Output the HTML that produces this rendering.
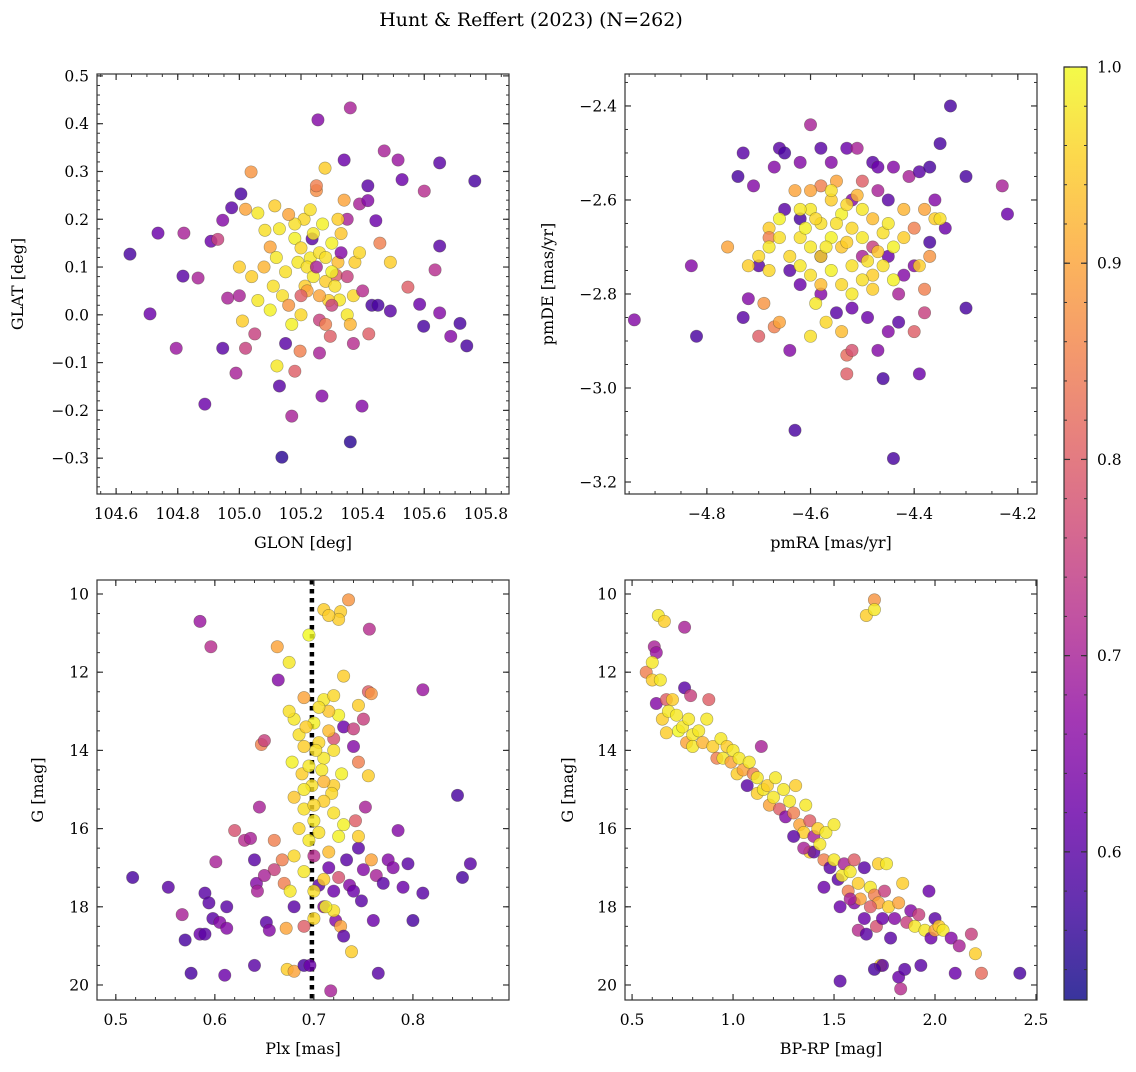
<!DOCTYPE html>
<html><head><meta charset="utf-8"><style>
body{margin:0;background:#fff;}
svg text{font-family:"DejaVu Serif","Liberation Serif",serif;fill:#000;}
</style></head><body>
<svg id="fig" width="1136" height="1067" xmlns="http://www.w3.org/2000/svg">
<text x="531" y="26" text-anchor="middle" font-size="19">Hunt &amp; Reffert (2023) (N=262)</text>
<defs><linearGradient id="plasma" x1="0" y1="1" x2="0" y2="0">
<stop offset="0" stop-color="#0d0887"/><stop offset="0.1" stop-color="#41049d"/><stop offset="0.2" stop-color="#6a00a8"/><stop offset="0.3" stop-color="#8f0da4"/><stop offset="0.4" stop-color="#b12a90"/><stop offset="0.5" stop-color="#cc4778"/><stop offset="0.6" stop-color="#e16462"/><stop offset="0.7" stop-color="#f2844b"/><stop offset="0.8" stop-color="#fca636"/><stop offset="0.9" stop-color="#fcce25"/><stop offset="1" stop-color="#f0f921"/>
</linearGradient></defs>
</svg>
<script>
// ---- Panel 1: GLON / GLAT ----
const glon=[104.645,104.736,104.71,104.795,104.817,104.82,104.866,104.888,104.908,104.93,104.946,104.946,104.962,104.975,104.989,105.005,105.02,105.038,105.0,105.01,105.06,105.083,105.1,105.115,105.122,105.13,105.138,105.17,105.18,105.197,105.213,105.23,105.236,105.255,105.26,105.268,105.278,105.295,105.314,105.34,105.35,105.36,105.36,105.325,105.375,105.39,105.398,105.417,105.43,105.443,105.456,105.47,105.49,105.515,105.528,105.547,105.585,105.598,105.6,105.635,105.65,105.65,105.65,105.686,105.716,105.738,105.764,105.49,105.417,
105.12,105.15,105.18,105.2,105.22,105.24,105.26,105.28,105.3,105.32,105.14,105.16,105.19,105.21,105.23,105.25,105.27,105.29,105.31,105.33,105.35,105.37,105.11,105.08,105.06,105.04,105.17,105.2,105.22,105.24,105.26,105.28,105.3,105.32,105.34,105.18,105.13,105.1,105.39,105.36,
105.25,105.33,105.3,105.2,105.35,105.4,105.37,105.42,105.15,105.26,105.28,105.45,105.05,105.02,105.0,105.16,105.25];
const glat=[0.127,0.171,0.002,-0.07,0.081,0.171,0.077,-0.187,0.154,0.158,0.198,-0.07,0.035,0.224,-0.122,0.253,0.221,0.299,0.10,-0.013,0.213,0.177,0.142,0.228,-0.107,-0.149,-0.298,-0.212,-0.118,-0.076,0.06,0.119,0.159,0.408,-0.011,-0.17,0.307,-0.045,0.083,0.324,0.2,0.433,-0.266,0.031,0.11,0.232,-0.191,0.27,0.02,0.197,0.15,0.343,0.008,0.324,0.283,0.058,0.022,-0.024,0.259,0.094,0.004,0.318,0.144,-0.045,-0.018,-0.065,0.28,0.11,0.239,
0.12,0.09,0.16,0.14,0.05,0.17,0.13,0.07,0.15,0.11,0.04,0.02,0.11,0.2,0.22,0.26,0.19,0.03,0.06,0.17,0.0,0.04,0.06,0.1,0.03,0.08,-0.02,0.0,0.1,0.08,0.04,0.12,0.09,0.2,0.24,0.19,0.18,0.01,0.13,-0.02,
0.1,0.13,0.02,0.04,0.08,0.05,-0.06,-0.04,-0.06,-0.08,-0.02,0.02,-0.04,-0.07,0.04,0.21,0.27];
const glatC=[0.58,0.62,0.62,0.68,0.6,0.7,0.7,0.62,0.62,0.75,0.65,0.6,0.7,0.6,0.7,0.58,0.9,0.88,0.95,0.95,0.98,0.97,0.9,0.95,0.98,0.6,0.55,0.7,0.8,0.85,0.95,0.98,0.6,0.65,0.75,0.65,0.95,0.8,0.8,0.62,0.7,0.7,0.55,0.98,0.95,0.7,0.65,0.6,0.58,0.62,0.85,0.7,0.6,0.68,0.62,0.8,0.62,0.58,0.72,0.72,0.65,0.6,0.6,0.65,0.58,0.58,0.58,0.95,0.65,
0.98,0.97,0.99,0.96,0.9,0.98,0.97,0.95,0.99,0.93,0.97,0.88,0.98,0.96,0.97,0.87,0.99,0.95,0.97,0.94,0.98,0.96,0.97,0.92,0.98,0.95,0.99,0.96,0.97,0.98,0.9,0.97,0.99,0.95,0.9,0.97,0.98,0.99,0.96,0.92,
0.7,0.65,0.75,0.8,0.75,0.72,0.72,0.8,0.6,0.7,0.85,0.58,0.75,0.75,0.7,0.9,0.85];

// ---- Panel 2: pmRA / pmDE ----
const pmra=[-4.83,-4.82,-4.94,-4.74,-4.73,-4.71,-4.73,-4.72,-4.7,-4.69,-4.67,-4.66,-4.68,-4.68,-4.66,-4.65,-4.67,-4.64,-4.63,-4.62,-4.6,-4.58,-4.56,-4.53,-4.51,-4.48,-4.47,-4.44,-4.41,-4.39,-4.37,-4.35,-4.33,-4.36,-4.34,-4.37,-4.3,-4.23,-4.22,-4.3,-4.39,-4.44,-4.46,-4.47,-4.49,-4.52,-4.55,-4.53,-4.53,-4.52,-4.58,-4.62,-4.64,-4.58,-4.43,-4.42,-4.4,-4.38,-4.38,-4.37,-4.36,-4.38,-4.4,-4.42,-4.45,-4.47,-4.5,-4.52,-4.55,-4.58,-4.6,-4.63,-4.4,-4.43,-4.45,-4.48,-4.5,-4.45,-4.65,-4.62,-4.7,-4.72,-4.76,
-4.6,-4.58,-4.56,-4.54,-4.52,-4.5,-4.48,-4.46,-4.44,-4.42,-4.62,-4.6,-4.58,-4.56,-4.54,-4.52,-4.5,-4.48,-4.46,-4.44,-4.64,-4.62,-4.6,-4.58,-4.56,-4.54,-4.52,-4.5,-4.48,-4.66,-4.68,-4.7,-4.66,-4.55,-4.53,-4.57,-4.59,-4.61,-4.47,-4.49,-4.45,-4.51,-4.53,-4.56,-4.59,-4.57,-4.6,-4.54,-4.62,-4.68,-4.39,-4.35];
const pmde=[-2.74,-2.89,-2.855,-2.55,-2.5,-2.57,-2.85,-2.81,-2.89,-2.82,-2.87,-2.86,-2.66,-2.68,-2.49,-2.5,-2.53,-2.92,-3.09,-2.52,-2.44,-2.49,-2.52,-2.49,-2.49,-2.52,-2.53,-2.53,-2.55,-2.54,-2.53,-2.48,-2.4,-2.6,-2.66,-2.69,-2.55,-2.57,-2.63,-2.83,-2.97,-3.15,-2.98,-2.92,-2.85,-2.83,-2.84,-2.93,-2.97,-2.92,-2.8,-2.78,-2.75,-2.72,-2.8,-2.76,-2.74,-2.79,-2.84,-2.72,-2.64,-2.62,-2.66,-2.62,-2.6,-2.58,-2.56,-2.6,-2.56,-2.57,-2.58,-2.58,-2.88,-2.86,-2.88,-2.7,-2.72,-2.72,-2.62,-2.64,-2.74,-2.74,-2.7,
-2.62,-2.65,-2.6,-2.63,-2.66,-2.62,-2.64,-2.67,-2.7,-2.68,-2.68,-2.7,-2.72,-2.68,-2.7,-2.74,-2.68,-2.76,-2.74,-2.77,-2.72,-2.74,-2.76,-2.78,-2.75,-2.78,-2.8,-2.77,-2.79,-2.68,-2.7,-2.72,-2.64,-2.65,-2.69,-2.7,-2.64,-2.66,-2.71,-2.73,-2.65,-2.59,-2.61,-2.58,-2.82,-2.86,-2.89,-2.88,-2.62,-2.75,-2.74,-2.64];
const pmC=[0.65,0.58,0.65,0.58,0.6,0.65,0.6,0.65,0.8,0.88,0.85,0.9,0.95,0.85,0.6,0.58,0.65,0.65,0.58,0.65,0.7,0.6,0.65,0.62,0.7,0.6,0.62,0.65,0.7,0.6,0.58,0.58,0.58,0.65,0.62,0.58,0.58,0.7,0.62,0.58,0.62,0.58,0.58,0.65,0.62,0.62,0.6,0.82,0.8,0.78,0.65,0.62,0.6,0.6,0.7,0.65,0.65,0.85,0.75,0.88,0.95,0.9,0.85,0.92,0.6,0.7,0.8,0.65,0.9,0.85,0.9,0.9,0.8,0.6,0.65,0.75,0.7,0.62,0.6,0.58,0.6,0.95,0.9,
0.98,0.97,0.95,0.99,0.96,0.98,0.93,0.97,0.99,0.95,0.97,0.98,0.96,0.99,0.94,0.97,0.98,0.95,0.97,0.99,0.96,0.98,0.97,0.93,0.99,0.96,0.98,0.97,0.95,0.97,0.98,0.96,0.99,0.97,0.95,0.98,0.96,0.99,0.94,0.97,0.98,0.92,0.96,0.97,0.98,0.96,0.97,0.93,0.98,0.96,0.95,0.97];

// ---- Panel 3: Plx / G ----
const plx=[0.517,0.553,0.567,0.57,0.576,0.585,0.585,0.59,0.59,0.594,0.596,0.598,0.601,0.605,0.61,0.612,0.612,0.62,0.63,0.636,0.64,0.64,0.642,0.643,0.645,0.647,0.65,0.652,0.655,0.66,0.663,0.66,0.664,0.668,0.67,0.672,0.673,0.68,0.69,0.696,0.7,0.705,0.71,0.715,0.717,0.72,0.722,0.725,0.727,0.73,0.733,0.736,0.738,0.74,0.742,0.745,0.748,0.75,0.752,0.756,0.758,0.76,0.763,0.765,0.77,0.775,0.78,0.785,0.79,0.795,0.8,0.81,0.81,0.845,0.85,0.858,0.65,0.68,0.69,0.74,0.745,0.75,0.755,0.755,0.73,0.735,0.745,0.758,0.727,0.725,0.71,0.715,0.695,0.675,0.69,0.73,0.74,0.72,0.745,0.72,
0.68,0.685,0.69,0.7,0.705,0.71,0.715,0.72,0.678,0.688,0.698,0.708,0.718,0.728,0.68,0.69,0.7,0.71,0.72,0.73,0.685,0.695,0.705,0.715,0.725,0.68,0.69,0.7,0.71,0.72,0.676,0.7,0.712,0.702,0.692,0.71,0.72,0.725,0.715,0.705,0.69,0.71,0.7,0.675,0.695];
const gmagP=[17.25,17.5,18.2,18.85,19.7,10.7,18.7,17.65,18.7,17.9,11.35,18.3,16.85,18.4,19.75,18.0,18.55,16.05,16.3,16.25,19.5,16.8,17.4,17.6,15.45,13.85,13.75,18.4,18.6,16.3,11.35,17.05,12.2,16.8,17.4,18.55,19.6,19.65,19.5,19.5,16.7,17.45,18.0,17.0,20.15,17.6,18.35,17.25,18.5,18.75,16.8,17.45,19.15,17.6,15.8,16.5,17.85,17.05,15.45,10.9,16.8,18.35,17.2,19.7,17.4,16.8,17.0,16.05,17.5,16.9,18.35,12.45,17.65,15.15,17.25,16.9,17.2,18.0,18.5,13.9,14.3,13.2,14.65,12.5,12.1,10.15,12.85,12.55,10.45,10.65,10.4,10.55,11.05,11.75,12.65,13.4,13.45,13.7,16.2,14.9,
13.2,13.6,13.9,13.3,13.8,14.2,13.5,14.0,14.3,14.6,14.9,14.5,15.1,14.6,15.2,15.5,15.8,15.3,15.6,15.9,16.0,16.3,16.1,16.6,16.2,16.7,17.1,17.6,17.3,18.1,17.6,18.3,18.0,14.0,13.4,12.7,12.6,13.1,13.0,12.9,15.0,14.8,15.4,13.0,14.4];
const plxC=[0.58,0.6,0.7,0.58,0.58,0.68,0.62,0.6,0.6,0.6,0.72,0.6,0.7,0.65,0.62,0.6,0.65,0.78,0.72,0.7,0.6,0.6,0.65,0.7,0.7,0.85,0.75,0.6,0.65,0.85,0.9,0.75,0.65,0.85,0.85,0.9,0.95,0.9,0.58,0.62,0.72,0.6,0.65,0.62,0.7,0.62,0.65,0.78,0.9,0.6,0.6,0.65,0.95,0.62,0.8,0.6,0.6,0.65,0.7,0.72,0.9,0.62,0.7,0.6,0.6,0.65,0.65,0.65,0.62,0.6,0.58,0.68,0.6,0.58,0.58,0.6,0.7,0.6,0.8,0.65,0.85,0.75,0.95,0.8,0.95,0.88,0.95,0.88,0.95,0.95,0.95,0.95,1.0,0.98,0.9,0.62,0.75,0.78,0.95,0.95,
0.98,0.97,0.95,0.99,0.96,0.98,0.93,0.97,0.99,0.95,0.97,0.98,0.96,0.99,0.94,0.97,0.98,0.95,0.97,0.99,0.96,0.98,0.97,0.93,0.99,0.96,0.98,0.97,0.95,0.97,0.98,0.96,0.99,0.97,0.95,0.98,0.96,0.99,0.94,0.97,0.98,0.92,0.96,0.97,0.98];

// ---- Panel 4: BP-RP / G ----
const bprp=[0.57,0.61,0.62,0.62,0.63,0.66,0.6,0.6,0.64,0.65,0.67,0.68,0.7,0.67,0.72,0.73,0.75,0.76,0.76,0.77,0.78,0.79,0.8,0.8,0.83,0.85,0.87,0.88,0.9,0.92,0.94,0.95,0.97,0.99,1.0,1.02,1.03,1.05,1.07,1.08,1.1,1.12,1.12,1.14,1.15,1.17,1.18,1.2,1.21,1.23,1.25,1.26,1.28,1.3,1.31,1.33,1.35,1.36,1.38,1.38,1.4,1.4,1.42,1.43,1.45,1.46,1.48,1.5,1.5,1.52,1.53,1.54,1.55,1.57,1.58,1.6,1.6,1.62,1.62,1.63,1.65,1.65,1.66,1.66,1.7,1.7,1.68,1.7,1.71,1.72,1.72,1.73,1.74,1.75,1.76,1.77,1.78,1.8,1.82,1.82,1.83,1.84,1.85,1.86,1.88,1.9,1.92,1.93,1.95,1.97,1.98,2.0,2.0,2.02,2.04,2.08,2.1,2.12,2.18,2.2,2.23,2.42,1.53,1.74,1.7,1.3,1.35,1.45,1.58,1.68];
const gmagC=[12.0,11.35,11.5,12.8,10.55,10.7,11.75,12.2,12.2,13.2,12.7,13.0,12.7,13.55,13.1,13.5,13.4,12.4,10.85,13.8,13.2,12.6,13.6,13.9,13.5,13.8,13.2,12.7,13.9,14.2,13.7,14.2,13.9,14.3,14.0,14.6,14.2,14.5,14.9,14.3,14.6,14.7,15.1,13.9,15.0,14.9,15.4,15.2,14.7,15.5,15.0,15.7,15.3,15.6,14.9,15.9,16.1,15.4,15.8,16.6,16.2,16.6,16.0,16.4,16.8,16.1,17.0,16.8,15.9,17.3,18.0,17.2,16.9,17.6,17.1,17.9,16.8,17.4,18.6,17.8,18.3,17.0,18.7,10.55,10.15,10.4,17.5,17.7,18.5,16.9,17.9,19.5,18.3,17.6,16.9,18.0,18.8,18.3,17.9,19.8,20.1,17.4,19.6,18.4,18.1,18.5,18.2,19.5,18.6,17.6,18.8,18.3,18.6,18.5,18.6,18.8,19.7,19.0,18.7,19.2,19.7,19.7,19.9,19.5,19.6,16.2,16.5,17.5,17.8,18.0];
const cmdC=[0.85,0.7,0.68,0.65,0.98,0.95,0.98,0.95,0.98,0.95,0.8,0.98,0.95,0.95,0.98,1.0,0.98,0.6,0.7,0.9,0.98,0.75,0.98,0.98,0.98,0.92,0.98,0.8,0.95,0.85,0.98,0.98,0.95,0.9,0.98,0.95,0.98,0.9,0.6,0.98,0.85,0.98,0.95,0.7,0.98,0.95,0.9,0.98,0.98,0.8,0.98,0.65,0.98,0.85,0.95,0.9,0.95,0.98,0.8,0.95,0.7,0.6,0.95,0.98,0.85,0.98,0.6,0.98,0.98,0.6,0.62,0.98,0.7,0.85,0.98,0.65,0.8,0.95,0.72,0.9,0.62,0.6,0.6,0.95,0.88,0.98,0.98,0.85,0.78,0.95,0.9,0.95,0.62,0.75,0.98,0.95,0.6,0.65,0.9,0.62,0.72,0.95,0.6,0.75,0.65,0.98,0.75,0.6,0.98,0.62,0.62,0.6,0.9,0.95,0.98,0.65,0.62,0.7,0.75,0.95,0.82,0.58,0.6,0.6,0.58,0.6,0.7,0.62,0.7,0.8];

const cbTicks=[0.6,0.7,0.8,0.9,1.0];
const VMIN=0.5245, VMAX=1.0;

const NS="http://www.w3.org/2000/svg";
const svg=document.getElementById('fig');
function mk(tag,attrs,parent){const e=document.createElementNS(NS,tag);for(const k in attrs)e.setAttribute(k,attrs[k]);(parent||svg).appendChild(e);return e;}
const stops=[[13,8,135],[65,4,157],[106,0,168],[143,13,164],[177,42,144],[204,71,120],[225,100,98],[242,132,75],[252,166,54],[252,206,37],[240,249,33]];
function plasma(v){let t=(v-VMIN)/(VMAX-VMIN);t=Math.max(0,Math.min(1,t))*10;const i=Math.min(9,Math.floor(t)),f=t-i;const a=stops[i],b=stops[i+1];return `rgb(${a.map((x,k)=>Math.round(x+(b[k]-x)*f)).join(',')})`;}
function fmt(v,d){return (v<0?'\u2212':'')+Math.abs(v).toFixed(d);}
function steps(a,b,s){const lo=Math.min(a,b),hi=Math.max(a,b);const out=[];for(let k=Math.ceil(lo/s-1e-6);k*s<=hi+1e-9;k++)out.push(k*s);return out;}

function panel(o){
  const g=mk('g',{});
  
  
  const sx=v=>o.L+(v-o.x0)/(o.x1-o.x0)*(o.R-o.L);
  const sy=v=>o.B-(v-o.y0)/(o.y1-o.y0)*(o.B-o.T);
  if(o.vline!==undefined){
    const l=mk('line',{x1:sx(o.vline),x2:sx(o.vline),y1:o.T,y2:o.B,stroke:'#000','stroke-width':4.5,'stroke-dasharray':'4.5,4.5'},g);
    
    
  }
  const pg=mk('g',{},g);
  
  
  for(let i=0;i<o.xs.length;i++){
    const c=mk('circle',{cx:sx(o.xs[i]),cy:sy(o.ys[i]),r:6.2,fill:plasma(o.cs[i]),'fill-opacity':0.82,stroke:'rgba(60,60,40,0.45)','stroke-width':0.6},pg);
    
    
  }
  const fr=mk('rect',{x:o.L,y:o.T,width:o.R-o.L,height:o.B-o.T,fill:'none',stroke:'#333','stroke-width':1.2},g);
  
  
  steps(o.x0,o.x1,o.xm).forEach(v=>{const X=sx(v);mk('line',{x1:X,x2:X,y1:o.B,y2:o.B-3,stroke:'#333'},g);mk('line',{x1:X,x2:X,y1:o.T,y2:o.T+3,stroke:'#333'},g);});
  steps(o.y0,o.y1,o.ym).forEach(v=>{const Y=sy(v);mk('line',{x1:o.L,x2:o.L+3,y1:Y,y2:Y,stroke:'#333'},g);mk('line',{x1:o.R,x2:o.R-3,y1:Y,y2:Y,stroke:'#333'},g);});
  o.xt.forEach(v=>{const X=sx(v);mk('line',{x1:X,x2:X,y1:o.B,y2:o.B-6,stroke:'#333','stroke-width':1.2},g);mk('line',{x1:X,x2:X,y1:o.T,y2:o.T+6,stroke:'#333','stroke-width':1.2},g);
    const t=mk('text',{x:X,y:o.B+25,'text-anchor':'middle','font-size':15.5},g);t.textContent=fmt(v,o.xd);
    });
  o.yt.forEach(v=>{const Y=sy(v);mk('line',{x1:o.L,x2:o.L+6,y1:Y,y2:Y,stroke:'#333','stroke-width':1.2},g);mk('line',{x1:o.R,x2:o.R-6,y1:Y,y2:Y,stroke:'#333','stroke-width':1.2},g);
    const t=mk('text',{x:o.L-8,y:Y+5.5,'text-anchor':'end','font-size':15.5},g);t.textContent=fmt(v,o.yd);
    });
  const xl=mk('text',{x:(o.L+o.R)/2,y:o.B+54,'text-anchor':'middle','font-size':16},g);xl.textContent=o.xlab;
  
  const yl=mk('text',{x:0,y:0,'text-anchor':'middle','font-size':16,transform:`translate(${o.ylx},${(o.T+o.B)/2}) rotate(-90)`},g);yl.textContent=o.ylab;
  
}

panel({name:'panel-glon-glat',L:97,R:509,T:74,B:494,x0:104.538,x1:105.875,y0:-0.375,y1:0.504,xm:0.05,ym:0.02,xt:[104.6,104.8,105.0,105.2,105.4,105.6,105.8],yt:[-0.3,-0.2,-0.1,0,0.1,0.2,0.3,0.4,0.5],xd:1,yd:1,xlab:'GLON [deg]',ylab:'GLAT [deg]',ylx:23,xs:glon,ys:glat,cs:glatC});
panel({name:'panel-proper-motion',L:625,R:1037,T:74,B:494,x0:-4.958,x1:-4.163,y0:-3.2255,y1:-2.332,xm:0.05,ym:0.05,xt:[-4.8,-4.6,-4.4,-4.2],yt:[-3.2,-3.0,-2.8,-2.6,-2.4],xd:1,yd:1,xlab:'pmRA [mas/yr]',ylab:'pmDE [mas/yr]',ylx:553,xs:pmra,ys:pmde,cs:pmC});
panel({name:'panel-parallax-mag',L:97,R:509,T:580,B:1000,x0:0.481,x1:0.897,y0:20.384,y1:9.642,xm:0.02,ym:0.5,xt:[0.5,0.6,0.7,0.8],yt:[10,12,14,16,18,20],xd:1,yd:0,xlab:'Plx [mas]',ylab:'G [mag]',ylx:43,xs:plx,ys:gmagP,cs:plxC,vline:0.698});
panel({name:'panel-cmd',L:625,R:1037,T:580,B:1000,x0:0.465,x1:2.505,y0:20.384,y1:9.642,xm:0.1,ym:0.5,xt:[0.5,1.0,1.5,2.0,2.5],yt:[10,12,14,16,18,20],xd:1,yd:0,xlab:'BP-RP [mag]',ylab:'G [mag]',ylx:573,xs:bprp,ys:gmagC,cs:cmdC});

(function(){
  const L=1064,R=1087,T=67,B=1000;
  const g=mk('g',{});
  
  
  mk('rect',{x:L,y:T,width:R-L,height:B-T,fill:'url(#plasma)','fill-opacity':0.82},g);
  mk('rect',{x:L,y:T,width:R-L,height:B-T,fill:'none',stroke:'#333','stroke-width':1.2},g);
  const sy=v=>B-(v-VMIN)/(VMAX-VMIN)*(B-T);
  steps(0.54,1.0,0.02).forEach(v=>{const Y=sy(v);mk('line',{x1:R,x2:R-3,y1:Y,y2:Y,stroke:'#333'},g);mk('line',{x1:L,x2:L+3,y1:Y,y2:Y,stroke:'#333'},g);});
  cbTicks.forEach(v=>{const Y=sy(v);mk('line',{x1:R,x2:R-6,y1:Y,y2:Y,stroke:'#333','stroke-width':1.2},g);mk('line',{x1:L,x2:L+6,y1:Y,y2:Y,stroke:'#333','stroke-width':1.2},g);
    const t=mk('text',{x:R+10,y:Y+5.5,'font-size':15.5},g);t.textContent=v.toFixed(1);
    });
})();
</script>
</body></html>
